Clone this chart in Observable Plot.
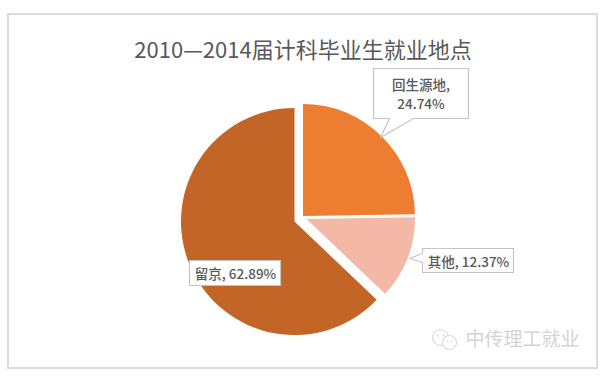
<!DOCTYPE html>
<html><head><meta charset="utf-8">
<script src="https://cdn.jsdelivr.net/npm/d3@7"></script>
<script src="https://cdn.jsdelivr.net/npm/@observablehq/plot@0.6"></script>
<style>html,body{margin:0;padding:0;background:#fff}svg{display:block}</style>
</head><body><div id="c"></div>
<script>
const titleText = "2010—2014届计科毕业生就业地点";
const categories = ["回生源地", "其他", "留京"];
const shares = [24.74, 12.37, 62.89];
const labels = ["回生源地,\n24.74%", "其他, 12.37%", "留京, 62.89%"];
const colors = ["#ed7d31", "#f4b9a6", "#c36526"];

// layout, in page pixels
const W = 604, H = 379;
const sliceCenters = [[303, 216], [306.5, 219], [294.5, 221.5]];
const sliceRadii = [112, 108.5, 113.5];
const labelAt = [[420.5, 93], [468, 260], [235, 272.5]];
const frameBox = [{x1: 8, y1: 14, x2: 597, y2: 368}];
const calloutA = [[373,68],[468,68],[468,118],[413,118],[380,137],[389,118],[373,118],[373,68]];
const calloutB = [[422,248],[513,248],[513,272],[422,272],[422,262],[409,258],[422,253],[422,248]];
const calloutC = [[189,260],[280,260],[280,285],[189,285],[189,260]];
const callouts = [calloutA, calloutB, calloutC].flatMap((p, k) => p.map(([x, y]) => ({x, y, k})));

const pieArcs = d3.pie().sort(null)(shares);
const slices = (index, {x, y}) => {
  const g = d3.create("svg:g");
  pieArcs.forEach((a, i) => {
    g.append("path")
      .attr("transform", `translate(${x(sliceCenters[i][0])},${y(sliceCenters[i][1])})`)
      .attr("d", d3.arc().innerRadius(0).outerRadius(sliceRadii[i])(a))
      .attr("fill", colors[i]);
  });
  return g.node();
};
const font = "'Noto Sans CJK SC','Open Sans',sans-serif";

const chart = Plot.plot({
  width: W, height: H, margin: 0,
  x: {domain: [0, W], range: [0, W], axis: null},
  y: {domain: [0, H], range: [0, H], axis: null},
  style: {background: "#fff"},
  marks: [
    Plot.rect(frameBox, {x1: "x1", y1: "y1", x2: "x2", y2: "y2", fill: "#fff", stroke: "#dcdcdc", strokeWidth: 2}),
    Plot.text([titleText], {x: [302.5], y: [50], text: d => d, fontSize: 22, fill: "#595959", fontFamily: font}),
    slices,
    Plot.line(callouts, {x: "x", y: "y", z: "k", fill: "#fff", stroke: "#c4c4c4", strokeWidth: 1.2, curve: "linear"}),
    Plot.text(labels, {x: labelAt.map(d => d[0]), y: labelAt.map(d => d[1]), text: d => d, fontSize: 13.5, fontWeight: 500, lineHeight: 1.4, fill: "#595959", fontFamily: font}),
    Plot.dot([0], {x: [440], y: [337], r: 8, stroke: "#dadada", fill: "none", strokeWidth: 1.2}),
    Plot.dot([0], {x: [449], y: [342], r: 7, stroke: "#dadada", fill: "#fff", strokeWidth: 1.2}),
    Plot.dot([0,1,2,3], {x: [437, 443, 447, 451], y: [335, 335, 341, 341], r: 1, fill: "#dadada"}),
    Plot.text(["中传理工就业"], {x: [522], y: [339], text: d => d, fontSize: 19, fill: "#d4d4d4", fontFamily: font})
  ]
});
document.getElementById("c").append(chart);
</script></body></html>
